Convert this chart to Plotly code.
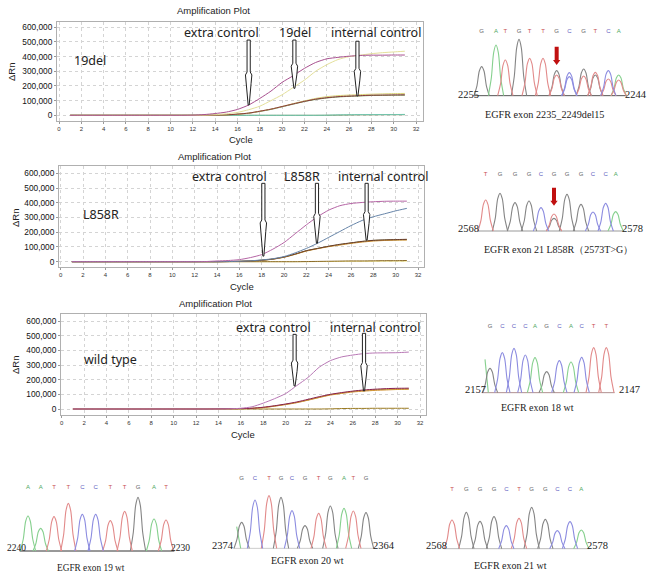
import plotly.graph_objects as go

W, H = 650, 578

cycles = list(range(1, 32))

# ---- amplification curves (values per cycle, cycles 1..31) ----
p1_magenta = [0,0,0,0,0,0,0,0,0,0,0,1000,5000,12000,22000,40000,70000,115000,165000,225000,270000,320000,360000,385000,395000,403000,408000,410000,410000,411000,411000]
p1_yellow  = [0,0,0,0,0,0,0,0,0,0,0,0,1000,4000,10000,20000,38000,62000,100000,140000,190000,240000,300000,345000,380000,400000,410000,420000,427000,432000,437000]
p1_olive   = [0,0,0,0,0,0,0,0,0,0,0,0,0,1000,3000,8000,15000,28000,42000,60000,80000,98000,115000,127000,134000,138000,141000,144000,146000,148000,149000]
p1_green   = [0,0,0,0,0,0,0,0,0,0,0,0,0,1000,3000,7000,14000,26000,40000,58000,76000,94000,108000,118000,125000,129000,132000,135000,136000,137000,137000]
p1_brown   = [0,0,0,0,0,0,0,0,0,0,0,0,0,1000,3000,8000,15000,28000,42000,60000,78000,95000,110000,120000,127000,131000,134000,137000,138000,139000,140000]
p1_teal    = [0,0,0,0,0,0,0,0,0,0,0,0,0,0,0,0,0,0,0,0,0,0,0,1000,3000,4000,5000,5000,5000,5000,6000]
p1_low     = [0,0,0,0,0,0,0,0,0,0,0,0,0,0,0,0,0,0,0,0,0,0,0,0,1000,2000,3000,3000,4000,4000,4000]

p2_magenta = [0,0,0,0,0,0,0,0,0,0,0,0,1000,5000,8000,14000,28000,48000,85000,130000,190000,250000,305000,350000,380000,395000,402000,407000,410000,411000,411000]
p2_blue    = [0,0,0,0,0,0,0,0,0,0,0,0,0,0,1000,3000,6000,12000,20000,35000,60000,90000,125000,165000,205000,245000,280000,305000,325000,345000,362000]
p2_brown   = [0,0,0,0,0,0,0,0,0,0,0,0,0,0,1000,3000,5000,10000,18000,32000,52000,75000,90000,105000,118000,128000,138000,145000,148000,150000,152000]
p2_orange  = [0,0,0,0,0,0,0,0,0,0,0,0,0,0,1000,2000,5000,9000,17000,30000,50000,72000,88000,102000,113000,124000,133000,140000,144000,146000,147000]
p2_green   = [0,0,0,0,0,0,0,0,0,0,0,0,0,0,1000,2000,5000,10000,18000,31000,51000,74000,90000,104000,116000,127000,137000,144000,147000,149000,150000]
p2_low     = [0,0,0,0,0,0,0,0,0,0,0,0,0,0,0,0,0,0,0,0,0,1000,2000,3000,4000,5000,5000,6000,7000,7000,8000]
p2_yellow  = [0,0,0,0,0,0,0,0,0,0,0,0,0,0,0,0,0,0,0,0,0,0,1000,1000,2000,3000,3000,3000,4000,4000,4000]

p3_magenta = [0,0,0,0,0,0,0,0,0,0,0,0,0,0,1000,5000,15000,40000,70000,105000,160000,215000,285000,330000,355000,368000,378000,382000,383000,384000,388000]
p3_red     = [0,0,0,0,0,0,0,0,0,0,0,0,0,1000,2000,3000,5000,12000,22000,34000,48000,66000,84000,100000,112000,122000,130000,135000,139000,141000,142000]
p3_orange  = [0,0,0,0,0,0,0,0,0,0,0,0,0,0,1000,2000,4000,9000,19000,30000,43000,60000,78000,95000,106000,116000,122000,127000,130000,133000,135000]
p3_olive   = [0,0,0,0,0,0,0,0,0,0,0,0,0,0,1000,2000,5000,10000,20000,32000,45000,62000,80000,98000,109000,120000,126000,131000,134000,136000,137000]
p3_low     = [0,0,0,0,0,0,0,0,0,0,0,0,0,0,0,0,0,0,0,0,0,0,0,1000,3000,4000,4000,5000,5000,5000,5000]

panel_curves = [
    [(p1_low, "#7f8f60"), (p1_teal, "#6fc7b0"), (p1_green, "#6f9a5a"), (p1_olive, "#d8d37a"), (p1_brown, "#8a3a3a"), (p1_yellow, "#e4e09a"), (p1_magenta, "#a8508f")],
    [(p2_yellow, "#f2e68a"), (p2_low, "#8a6a2a"), (p2_green, "#6f9a5a"), (p2_orange, "#d09030"), (p2_brown, "#6a3a2a"), (p2_blue, "#6684a8"), (p2_magenta, "#b565a5")],
    [(p3_low, "#9a7a20"), (p3_olive, "#a8a040"), (p3_orange, "#d09030"), (p3_red, "#8a2050"), (p3_magenta, "#b878b5")],
]

# ---- arrows on the amplification plots: cycle, top, tip, bulge start, bulge end ----
arrow_cycle  = [[17.0, 21.1, 26.75], [18.15, 22.95, 27.4], [20.8, 27.0]]
arrow_top    = [[513000, 513000, 505000], [532000, 532000, 532000], [509000, 516000]]
arrow_tip    = [[70000, 184000, 132000], [38000, 125000, 147000], [157000, 123000]]
arrow_b_high = [[295000, 355000, 320000], [283000, 328000, 340000], [333000, 316000]]
arrow_b_low  = [[215000, 275000, 240000], [204000, 249000, 260000], [255000, 232000]]

# ---- chromatograms: base letters, peak positions, peak heights ----
c_bases = ["GATGTTGCGTCA", "TGGGCGGGCCA", "GCCCAGCACTT", "AATTCCTTGAT", "GCTGCGTGATG", "TGGGCTGGCCA"]
c_pos = [
    [125, 168, 196, 237, 269, 309, 350, 388, 431, 466, 505, 536],
    [137, 180, 225, 267, 303, 342, 381, 423, 459, 497, 527],
    [150, 187, 222, 256, 285, 320, 358, 393, 425, 461, 499],
    [84, 122, 162, 205, 247, 287, 331, 374, 414, 462, 498],
    [125, 165, 207, 243, 276, 315, 356, 391, 432, 460, 498],
    [96, 139, 180, 222, 259, 297, 335, 376, 412, 450, 484],
]
c_height = [
    [87, 152, 107, 169, 112, 112, 75, 69, 80, 70, 75, 62],
    [93, 113, 85, 90, 70, 38, 110, 80, 57, 83, 58],
    [73, 120, 133, 113, 105, 63, 96, 92, 106, 135, 135],
    [105, 68, 103, 143, 110, 110, 91, 119, 161, 96, 93],
    [78, 145, 158, 153, 113, 68, 105, 127, 120, 112, 107],
    [86, 109, 82, 96, 69, 91, 124, 88, 54, 81, 56],
]
# secondary (mixed) peaks: position, height, base
c_second_pos  = [[350, 388, 431, 466, 505, 536], [342], [], [], [], []]
c_second_h    = [[62, 57, 59, 62, 50, 47], [51], [], [], [], []]
c_second_base = ["TCTGTT", "T", "", "", "", ""]
# falling edge of a green peak cut at the left of the trace: x, height (or none)
c_edge_x = [None, None, [135, 145], None, [110, 122], None]
c_edge_y = [None, None, [100, 0], None, [65, 0], None]

c_left_label  = ["2255", "2568", "2157", "2240", "2374", "2568"]
c_right_label = ["2244", "2578", "2147", "2230", "2364", "2578"]
c_caption = ["EGFR exon 2235_2249del15", "EGFR exon 21 L858R（2573T>G）", "EGFR exon 18 wt",
             "EGFR exon 19 wt", "EGFR exon 20 wt", "EGFR exon 21 wt"]
c_baseline_color = ["#555555", "#999999", "#b09090", "#333333", "#cccccc", "#bbbbbb"]

# ---- layout geometry (pixels) ----
plots = [
    dict(l=57, r=423, t=22, b=121, x0=59, x32=416, y0=115.3, y600=27.3,
         title=(213, 10), cycle=(241, 140), rn=(11, 72)),
    dict(l=59, r=424, t=166, b=267, x0=60.7, x32=418, y0=261.7, y600=173.3,
         title=(214, 156), cycle=(242, 287), rn=(15, 218)),
    dict(l=61, r=425.7, t=314, b=414.7, x0=61.7, x32=420, y0=409, y600=321,
         title=(215, 303), cycle=(243, 434), rn=(15, 365)),
]
overlay = [
    [("extra control", 222, 33), ("19del", 295, 33), ("internal control", 376, 33), ("19del", 90, 61)],
    [("extra control", 229, 176), ("L858R", 302, 176), ("internal control", 383, 176), ("L858R", 101, 214)],
    [("extra control", 273, 327), ("internal control", 375, 327), ("wild type", 111, 359)],
]
# crop: x, y, w, h (px) ; base: baseline in 3x crop units ; letters y ; label x/y ; caption x/y
chrom = [
    dict(crop=(440, 10, 210, 130), base=257, ly=65, lab=(85, 588, 255), cap=(313, 313), fs=10.2, lfs=10.5),
    dict(crop=(440, 160, 210, 110), base=213, ly=44, lab=(85, 577, 207), cap=(355, 268), fs=10, lfs=10.5),
    dict(crop=(440, 310, 210, 110), base=248, ly=50, lab=(105, 567, 238), cap=(293, 291), fs=10, lfs=10.5),
    dict(crop=(0, 450, 210, 128), base=303, ly=113, lab=(48, 540, 295), cap=(272, 355), fs=9.3, lfs=9.5),
    dict(crop=(200, 470, 210, 108), base=235, ly=25, lab=(70, 552, 227), cap=(322, 272), fs=10, lfs=10.5),
    dict(crop=(420, 470, 210, 108), base=236, ly=57, lab=(48, 532, 225), cap=(270, 286), fs=10, lfs=10.5),
]
base_color = {"G": "#858585", "A": "#86d08e", "T": "#e28a8a", "C": "#8c8ce0"}
letter_color = {"G": "#666666", "A": "#4fa860", "T": "#c85050", "C": "#6060c0"}
red_arrows = {0: (350, 147, 92), 1: (342, 130, 76)}

fig = go.Figure()
annots = []

def ann(px, py, text, size, font="Liberation Sans", color="#222222", angle=0):
    annots.append(dict(x=px / W, y=1 - py / H, xref="paper", yref="paper", text=text, showarrow=False,
                       xanchor="center", yanchor="middle", textangle=angle,
                       font=dict(size=size, family=font, color=color)))

axis_n = 0
layout_axes = {}

for i, p in enumerate(plots):
    axis_n += 1
    xa, ya = ("x", "y") if axis_n == 1 else (f"x{axis_n}", f"y{axis_n}")
    sx = (p["x32"] - p["x0"]) / 32
    sy = (p["y0"] - p["y600"]) / 600000
    xr = [(p["l"] - p["x0"]) / sx, (p["r"] - p["x0"]) / sx]
    yr = [(p["y0"] - p["b"]) / sy, (p["y0"] - p["t"]) / sy]
    common = dict(showgrid=True, gridcolor="#d4d4d4", griddash="dot", gridwidth=1, zeroline=False,
                  showline=True, linecolor="#b0b0b0", linewidth=1, mirror=True,
                  ticks="outside", ticklen=2, tickcolor="#999999")
    layout_axes["xaxis" + ("" if axis_n == 1 else str(axis_n))] = dict(
        common, domain=[p["l"] / W, p["r"] / W], range=xr, anchor=ya, tickmode="linear", tick0=0, dtick=2,
        tickfont=dict(size=6, family="Liberation Sans", color="#333333"))
    layout_axes["yaxis" + ("" if axis_n == 1 else str(axis_n))] = dict(
        common, domain=[1 - p["b"] / H, 1 - p["t"] / H], range=yr, anchor=xa, tickmode="linear", tick0=0,
        dtick=100000, tickformat=",", tickfont=dict(size=8.3, family="Liberation Sans", color="#111111"))
    for vals, col in panel_curves[i]:
        fig.add_trace(go.Scatter(x=cycles, y=vals, mode="lines", xaxis=xa, yaxis=ya, showlegend=False,
                                 line=dict(color=col, width=1, shape="spline", smoothing=0.6)))
    for c, top, tip, hi, lo in zip(arrow_cycle[i], arrow_top[i], arrow_tip[i], arrow_b_high[i], arrow_b_low[i]):
        px_w = 1 / sx
        xs = [c - 1.6 * px_w, c + 1.6 * px_w, c + 1.6 * px_w, c + 3.2 * px_w, c + 2.4 * px_w, c + 0.5 * px_w,
              c - 0.5 * px_w, c - 2.4 * px_w, c - 3.2 * px_w, c - 1.6 * px_w, c - 1.6 * px_w]
        ys = [top, top, hi, (hi * 3 + lo) / 4, lo, tip, tip, lo, (hi * 3 + lo) / 4, hi, top]
        fig.add_trace(go.Scatter(x=xs, y=ys, mode="lines", xaxis=xa, yaxis=ya, showlegend=False,
                                 fill="toself", fillcolor="white", line=dict(color="#222222", width=1)))
    ann(*p["title"], "Amplification Plot", 9.5, color="#222222")
    ann(*p["cycle"], "Cycle", 9.5, color="#222222")
    ann(*p["rn"], "ΔRn", 9.5, color="#222222", angle=-90)
    for text, px, py in overlay[i]:
        ann(px, py, text, 12.5, font="Noto Sans", color="#222222")

def peak_xy(pos, heights):
    xs, ys = [], []
    for c, h in zip(pos, heights):
        xs += [c - 23, c - 14, c - 7, c, c + 7, c + 14, c + 23, None]
        ys += [0, h * 0.35, h * 0.85, h, h * 0.85, h * 0.35, 0, None]
    return xs, ys

for i, c in enumerate(chrom):
    axis_n += 1
    xa, ya = f"x{axis_n}", f"y{axis_n}"
    cx, cy, cw, ch = c["crop"]
    hidden = dict(visible=False, showgrid=False, zeroline=False)
    layout_axes[f"xaxis{axis_n}"] = dict(hidden, domain=[cx / W, min(1, (cx + cw) / W)], range=[0, cw * 3], anchor=ya)
    layout_axes[f"yaxis{axis_n}"] = dict(hidden, domain=[max(0, 1 - (cy + ch) / H), 1 - cy / H],
                                         range=[c["base"] - ch * 3, c["base"]], anchor=xa)
    pos, hts, bases = c_pos[i], c_height[i], c_bases[i]
    fig.add_trace(go.Scatter(x=[pos[0] - 25, pos[-1] + 25], y=[0, 0], mode="lines", xaxis=xa, yaxis=ya,
                             showlegend=False, line=dict(color=c_baseline_color[i], width=1)))
    if c_edge_x[i]:
        fig.add_trace(go.Scatter(x=c_edge_x[i], y=c_edge_y[i], mode="lines", xaxis=xa, yaxis=ya,
                                 showlegend=False, line=dict(color=base_color["A"], width=1.1)))
    for b, col in base_color.items():
        idx = [k for k, s in enumerate(bases) if s == b]
        xs, ys = peak_xy([pos[k] for k in idx], [hts[k] for k in idx])
        fig.add_trace(go.Scatter(x=xs, y=ys, mode="lines", xaxis=xa, yaxis=ya, showlegend=False, connectgaps=False,
                                 line=dict(color=col, width=1.1, shape="spline", smoothing=0.8)))
        idx2 = [k for k, s in enumerate(c_second_base[i]) if s == b]
        if idx2:
            xs, ys = peak_xy([c_second_pos[i][k] for k in idx2], [c_second_h[i][k] for k in idx2])
            fig.add_trace(go.Scatter(x=xs, y=ys, mode="lines", xaxis=xa, yaxis=ya, showlegend=False,
                                     line=dict(color=col, width=1.1, shape="spline", smoothing=0.8)))
        fig.add_trace(go.Scatter(x=[pos[k] for k in idx], y=[c["base"] - c["ly"]] * len(idx), mode="text",
                                 text=[b] * len(idx), xaxis=xa, yaxis=ya, showlegend=False,
                                 textfont=dict(size=6, family="Liberation Sans", color=letter_color[b])))
    if i in red_arrows:
        ax, ytop, ytip = red_arrows[i]
        yneck = ytip + 15
        fig.add_trace(go.Scatter(x=[ax - 6, ax + 6, ax + 6, ax + 11, ax, ax - 11, ax - 6, ax - 6],
                                 y=[ytop, ytop, yneck, yneck, ytip, yneck, yneck, ytop], mode="lines",
                                 xaxis=xa, yaxis=ya, showlegend=False, fill="toself", fillcolor="#c01010",
                                 line=dict(color="#c01010", width=0)))
    lx, rx, ly = c["lab"]
    ann(cx + lx / 3, cy + ly / 3, c_left_label[i], c["lfs"], font="Liberation Serif")
    ann(cx + rx / 3, cy + ly / 3, c_right_label[i], c["lfs"], font="Liberation Serif")
    ann(cx + c["cap"][0] / 3, cy + c["cap"][1] / 3, c_caption[i], c["fs"], font="Liberation Serif")

fig.update_layout(width=W, height=H, autosize=False, margin=dict(l=0, r=0, t=0, b=0),
                  paper_bgcolor="white", plot_bgcolor="white", showlegend=False, annotations=annots,
                  **layout_axes)
fig.write_html("out.html", config=dict(displayModeBar=False),
               post_script="document.body.style.margin='0';document.body.style.overflow='hidden';window.dispatchEvent(new Event('resize'));")
